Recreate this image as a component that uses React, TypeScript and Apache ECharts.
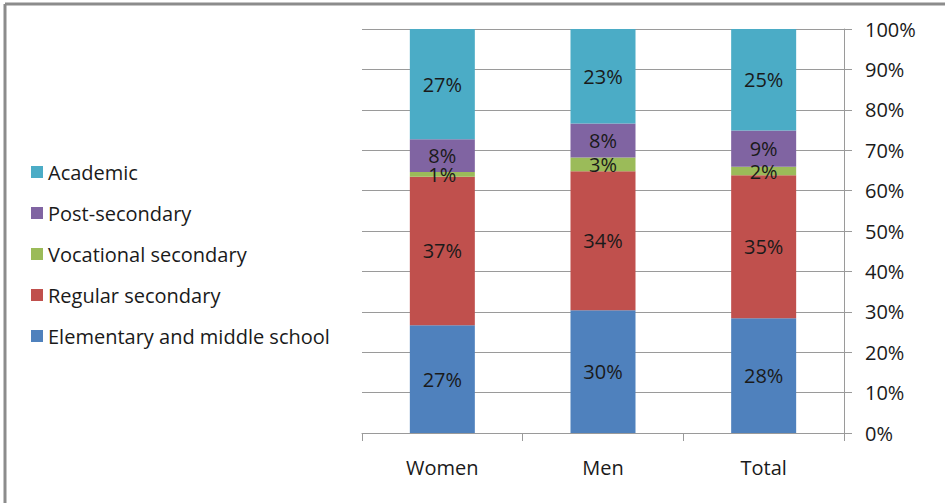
import React, { useEffect, useRef } from "react";
import * as echarts from "echarts";

// Education level shares by group (percent of each group, stacked to 100%)
const categories = ["Women", "Men", "Total"];
const seriesNames = [
  "Elementary and middle school",
  "Regular secondary",
  "Vocational secondary",
  "Post-secondary",
  "Academic",
];
const elementary = [26.7, 30.4, 28.4];
const regular = [36.7, 34.4, 35.4];
const vocational = [1.2, 3.4, 2.1];
const postSecondary = [8.1, 8.4, 9.0];
const academic = [27.3, 23.4, 25.1];
const seriesColors = ["#4F81BD", "#C0504D", "#9BBB59", "#8064A2", "#4BACC6"];
const yTicks = [0, 10, 20, 30, 40, 50, 60, 70, 80, 90, 100];

const FONT = "'Open Sans', 'Noto Sans', sans-serif";
const TEXT = "#1a1a1a";
const GRID_GRAY = "#9a9a9a";
const FS = 20;

export default function App() {
  const ref = useRef<HTMLDivElement>(null);

  useEffect(() => {
    if (!ref.current) return;
    const chart = echarts.init(ref.current, null, { renderer: "svg" });
    const values = [elementary, regular, vocational, postSecondary, academic];

    const option: any = {
      animation: false,
      backgroundColor: "#ffffff",
      textStyle: { fontFamily: FONT },
      legend: {
        orient: "vertical",
        left: 31,
        top: 161,
        padding: 0,
        itemWidth: 12,
        itemHeight: 12,
        itemGap: 19,
        icon: "rect",
        data: [...seriesNames].reverse(),
        textStyle: {
          fontFamily: FONT,
          fontSize: FS,
          lineHeight: 22,
          color: TEXT,
        },
        selectedMode: false,
      },
      grid: { left: 362, right: 101, top: 29, bottom: 70, containLabel: false },
      xAxis: {
        type: "category",
        data: categories,
        axisLine: { show: true, lineStyle: { color: GRID_GRAY, width: 1 } },
        axisTick: {
          show: true,
          length: 8,
          interval: 0,
          alignWithLabel: false,
          lineStyle: { color: GRID_GRAY },
        },
        axisLabel: {
          margin: 24,
          fontFamily: FONT,
          fontSize: FS,
          color: TEXT,
        },
      },
      yAxis: {
        type: "value",
        position: "right",
        min: 0,
        max: 100,
        interval: 10,
        axisLine: { show: true, lineStyle: { color: GRID_GRAY, width: 1 } },
        axisTick: { show: true, length: 8, lineStyle: { color: GRID_GRAY } },
        splitLine: { show: true, lineStyle: { color: GRID_GRAY, width: 1 } },
        axisLabel: {
          margin: 21,
          fontFamily: FONT,
          fontSize: FS,
          color: TEXT,
          formatter: (v: number) => (yTicks.includes(v) ? `${v}%` : ""),
        },
      },
      series: seriesNames.map((name, i) => ({
        name,
        type: "bar",
        stack: "share",
        barWidth: 65,
        itemStyle: { color: seriesColors[i] },
        label: {
          show: true,
          position: "inside",
          fontFamily: FONT,
          fontSize: FS,
          lineHeight: 17,
          color: TEXT,
          formatter: (p: any) => `${Math.round(p.value)}%`,
        },
        data: values[i],
      })),
      graphic: [
        {
          type: "line",
          shape: { x1: 5, y1: 4, x2: 945, y2: 4 },
          style: { stroke: "#8c8c8c", lineWidth: 3 },
        },
        {
          type: "line",
          shape: { x1: 5, y1: 4, x2: 5, y2: 503 },
          style: { stroke: "#8c8c8c", lineWidth: 3 },
        },
      ],
    };

    chart.setOption(option);
    return () => chart.dispose();
  }, []);

  return (
    <div
      ref={ref}
      style={{ width: 945, height: 503, position: "absolute", left: 0, top: 0 }}
    />
  );
}
